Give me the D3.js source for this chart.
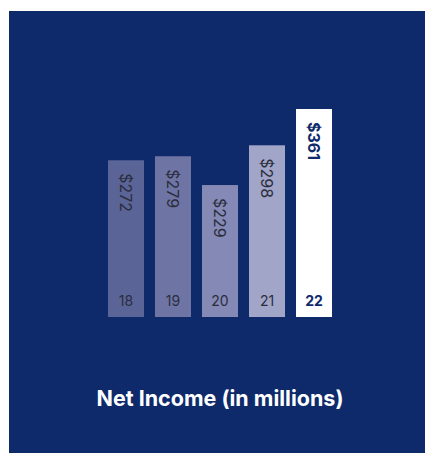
<!DOCTYPE html>
<html><head><meta charset="utf-8">
<script src="https://cdn.jsdelivr.net/npm/d3@7"></script>
<style>html,body{margin:0;padding:0;background:#fff;}svg{display:block;}</style>
</head><body>
<script>
const years = ["18","19","20","21","22"];
const values = [272, 279, 229, 298, 361];
const valueLabels = ["$272","$279","$229","$298","$361"];
const barColors = ["#5b6497","#6e75a5","#8489b6","#a1a5c8","#ffffff"];
const title = "Net Income (in millions)";

const W = 425, H = 453;
const svg = d3.select("body").append("svg").attr("width", W).attr("height", H);
svg.append("rect").attr("x", 9).attr("y", 11).attr("width", W - 9).attr("height", H - 11).attr("fill", "#0e2a6b");

const x = d3.scaleBand().domain(years).range([108, 332]).paddingInner(11/47).paddingOuter(0);
const y = d3.scaleLinear().domain([0, 361]).range([317, 109]);

const g = svg.append("g");
g.selectAll("rect.bar").data(values).join("rect").attr("class","bar")
  .attr("x", (d,i) => x(years[i])).attr("width", x.bandwidth())
  .attr("y", d => y(d)).attr("height", d => y(0) - y(d))
  .attr("fill", (d,i) => barColors[i]);

g.selectAll("text.val").data(values).join("text").attr("class","val")
  .attr("transform", (d,i) => `translate(${x(years[i]) + x.bandwidth()/2},${y(d) + 13}) rotate(90)`)
  .attr("text-anchor","start").attr("dominant-baseline","central")
  .attr("font-family","Inter, 'DejaVu Sans', sans-serif")
  .attr("font-size", 16)
  .attr("font-weight", (d,i) => i === 4 ? 700 : 400)
  .attr("fill", (d,i) => i === 4 ? "#0e2a6b" : "#2b2d3d")
  .text((d,i) => valueLabels[i]);

g.selectAll("text.yr").data(years).join("text").attr("class","yr")
  .attr("x", d => x(d) + x.bandwidth()/2).attr("y", 306)
  .attr("text-anchor","middle")
  .attr("font-family","Inter, 'DejaVu Sans', sans-serif")
  .attr("font-size", 14)
  .attr("font-weight", (d,i) => i === 4 ? 700 : 400)
  .attr("fill", (d,i) => i === 4 ? "#0e2a6b" : "#2b2d3d")
  .text(d => d);

svg.append("text").attr("x", 220).attr("y", 406).attr("text-anchor","middle")
  .attr("font-family","Inter, 'DejaVu Sans', sans-serif")
  .attr("font-size", 21.5).attr("font-weight", 700).attr("fill", "#ffffff")
  .text(title);
</script>
</body></html>
